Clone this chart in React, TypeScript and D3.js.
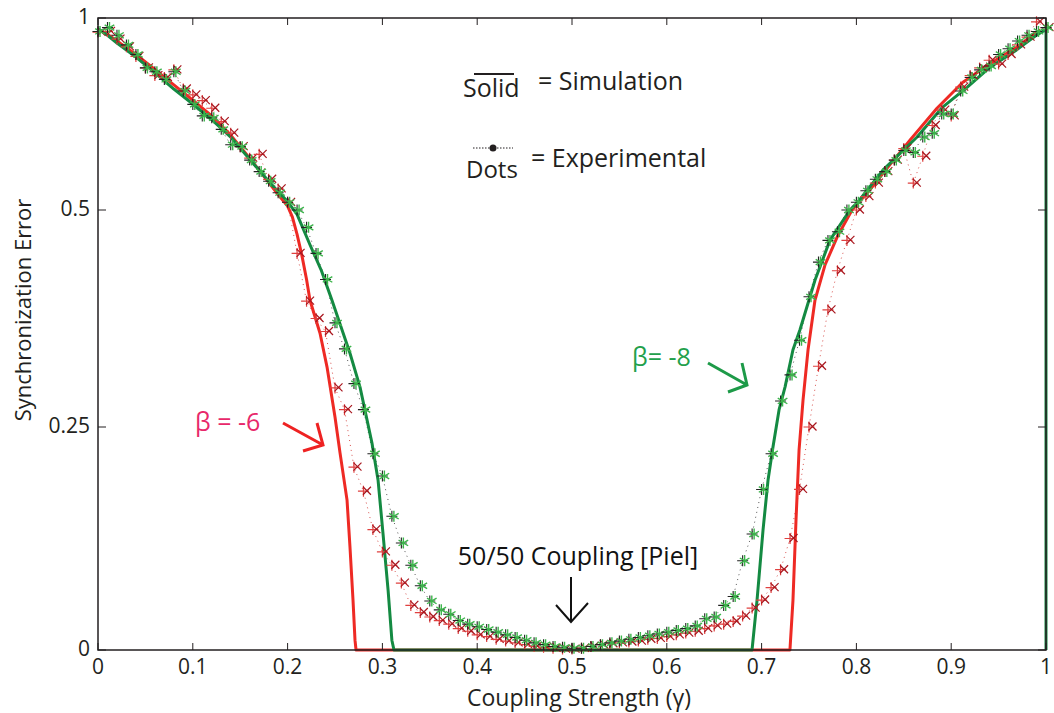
import React from "react";
import * as d3 from "d3";

const W = 1054;
const H = 713;

const xTicks = [0, 0.1, 0.2, 0.3, 0.4, 0.5, 0.6, 0.7, 0.8, 0.9, 1];
const xTickLabels = ["0", "0.1", "0.2", "0.3", "0.4", "0.5", "0.6", "0.7", "0.8", "0.9", "1"];
const yTicks = [0, 0.25, 0.5, 1];
const yTickLabels = ["0", "0.25", "0.5", "1"];

// Simulation (solid) curves
const redSimX = [0, 0.01, 0.02, 0.04, 0.06, 0.08, 0.1, 0.12, 0.14, 0.16, 0.18, 0.19, 0.2, 0.205, 0.21, 0.215, 0.22, 0.2236, 0.2342, 0.2416, 0.25, 0.2553, 0.2627, 0.2658, 0.269, 0.2711, 0.2722,
  0.7299, 0.7331, 0.7363, 0.7395, 0.7437, 0.749, 0.7563, 0.767, 0.7806, 0.7954, 0.814, 0.835, 0.8565, 0.885, 0.912, 0.944, 0.969, 0.994];
const redSimY = [0.97, 0.958, 0.94, 0.905, 0.866, 0.826, 0.786, 0.745, 0.695, 0.635, 0.572, 0.54, 0.51, 0.492, 0.472, 0.448, 0.42, 0.396, 0.358, 0.319, 0.2615, 0.221, 0.168, 0.1155, 0.056, 0.011, 0,
  0, 0.056, 0.1457, 0.224, 0.281, 0.339, 0.396, 0.437, 0.471, 0.5, 0.552, 0.617, 0.682, 0.765, 0.832, 0.886, 0.924, 0.969];

const greenSimX = [0, 0.01, 0.02, 0.04, 0.06, 0.08, 0.1, 0.12, 0.14, 0.16, 0.18, 0.19, 0.2, 0.21, 0.2236, 0.2357, 0.2468, 0.2658, 0.2764, 0.289, 0.2954, 0.3006, 0.306, 0.31, 0.3122,
  0.6899, 0.6952, 0.7015, 0.7068, 0.712, 0.7184, 0.7247, 0.7331, 0.7405, 0.7563, 0.772, 0.7932, 0.8006, 0.828, 0.864, 0.891, 0.917, 0.941, 0.969, 0.9905, 1, 1];
const greenSimY = [0.972, 0.955, 0.935, 0.898, 0.858, 0.815, 0.776, 0.735, 0.69, 0.632, 0.575, 0.548, 0.522, 0.495, 0.46, 0.43, 0.396, 0.335, 0.296, 0.232, 0.1906, 0.131, 0.067, 0.011, 0,
  0, 0.056, 0.1345, 0.1906, 0.2276, 0.2696, 0.296, 0.339, 0.362, 0.419, 0.465, 0.5, 0.518, 0.604, 0.69, 0.768, 0.82, 0.872, 0.917, 0.956, 0.97, 0];

// Experimental (dots) at gamma = 0, 0.01, ..., 1
const expX = d3.range(0, 101).map((i) => i / 100);
const redExpY = [
  0.963, 0.965, 0.945, 0.925, 0.9, 0.87, 0.85, 0.845, 0.865, 0.815,
  0.8, 0.785, 0.765, 0.73, 0.7, 0.665, 0.635, 0.645, 0.58, 0.555,
  0.52, 0.45, 0.395, 0.375, 0.36, 0.295, 0.27, 0.205, 0.178, 0.135,
  0.11, 0.095, 0.075, 0.05, 0.042, 0.037, 0.033, 0.029, 0.024, 0.021,
  0.017, 0.015, 0.012, 0.01, 0.008, 0.006, 0.004, 0.003, 0.002, 0.001,
  0.001, 0.002, 0.004, 0.006, 0.007, 0.008, 0.009, 0.01, 0.012, 0.013,
  0.015, 0.017, 0.019, 0.021, 0.024, 0.027, 0.029, 0.032, 0.038, 0.047,
  0.056, 0.07, 0.09, 0.125, 0.18, 0.25, 0.32, 0.385, 0.43, 0.465,
  0.5, 0.535, 0.57, 0.6, 0.63, 0.66, 0.57, 0.64, 0.72, 0.76,
  0.745, 0.82, 0.85, 0.87, 0.89, 0.88, 0.905, 0.93, 0.95, 0.99,
  0.975,
];
const greenExpY = [
  0.965, 0.975, 0.955, 0.93, 0.905, 0.87, 0.86, 0.84, 0.86, 0.81,
  0.775, 0.745, 0.74, 0.71, 0.67, 0.665, 0.63, 0.6, 0.575, 0.545,
  0.52, 0.5, 0.48, 0.45, 0.42, 0.37, 0.34, 0.3, 0.27, 0.22,
  0.195, 0.15, 0.12, 0.095, 0.072, 0.055, 0.045, 0.04, 0.033, 0.029,
  0.026, 0.023, 0.02, 0.017, 0.014, 0.011, 0.008, 0.006, 0.004, 0.003,
  0.002, 0.002, 0.004, 0.006, 0.008, 0.01, 0.012, 0.014, 0.016, 0.018,
  0.02, 0.022, 0.024, 0.027, 0.035, 0.037, 0.05, 0.06, 0.1, 0.13,
  0.18, 0.22, 0.28, 0.31, 0.35, 0.4, 0.44, 0.465, 0.475, 0.5,
  0.52, 0.55, 0.58, 0.6, 0.63, 0.655, 0.65, 0.69, 0.7, 0.75,
  0.75, 0.81, 0.845, 0.865, 0.875, 0.905, 0.92, 0.94, 0.955, 0.965,
  0.975,
];

const FONT = "'Open Sans', 'Noto Sans', sans-serif";
const INK = "#231f20";

export default function App() {
  const x = d3.scaleLinear().domain([0, 1]).range([98, 1046]);
  const y = d3.scaleLinear().domain([0, 0.25, 0.5, 1]).range([650, 427, 210, 18]);

  const line = d3
    .line<[number, number]>()
    .x((d) => x(d[0]))
    .y((d) => y(d[1]));

  const redSim = redSimX.map((v, i) => [v, redSimY[i]] as [number, number]);
  const greenSim = greenSimX.map((v, i) => [v, greenSimY[i]] as [number, number]);
  const redExp = expX.map((v, i) => [v, redExpY[i]] as [number, number]);
  const greenExp = expX.map((v, i) => [v, greenExpY[i]] as [number, number]);

  const x0 = x(0), x1 = x(1), yb = y(0), yt = y(1);

  return (
    <svg width={W} height={H} style={{ position: "absolute", left: 0, top: 0, background: "#fff" }}>
      {/* dotted experimental connecting lines */}
      <path d={line(redExp) || ""} fill="none" stroke="#d9534f" strokeWidth={1} strokeDasharray="1,4" />
      <path d={line(greenExp) || ""} fill="none" stroke="#555" strokeWidth={1} strokeDasharray="1,4" />

      {/* simulation */}
      <path d={line(redSim) || ""} fill="none" stroke="#ee2a24" strokeWidth={3} strokeLinejoin="round" />
      <path d={line(greenSim) || ""} fill="none" stroke="#148a42" strokeWidth={3} strokeLinejoin="round" />

      {/* experimental markers */}
      {redExp.map((d, i) => {
        const cx = x(d[0]), cy = y(d[1]);
        return (
          <g key={"r" + i}>
            <path d={`M${cx - 5.5},${cy}H${cx + 5.5}M${cx},${cy - 5.5}V${cy + 5.5}`} stroke="#e0403f" strokeWidth={1.2} />
            <path d={`M${cx - 0.5},${cy - 4.5}l8,8M${cx + 7.5},${cy - 4.5}l-8,8`} stroke="#a8161e" strokeWidth={1.2} />
          </g>
        );
      })}
      {greenExp.map((d, i) => {
        const cx = x(d[0]), cy = y(d[1]);
        return (
          <g key={"g" + i}>
            <path d={`M${cx - 5.5},${cy}H${cx + 5.5}M${cx},${cy - 5.5}V${cy + 5.5}`} stroke="#222" strokeWidth={1.1} />
            <path d={`M${cx + 2},${cy - 5.5}V${cy + 5.5}M${cx - 2.8},${cy - 2.8}l9.6,5.6M${cx + 6.8},${cy - 2.8}l-9.6,5.6`} stroke="#3cb44b" strokeWidth={1.4} />
          </g>
        );
      })}

      {/* axes box */}
      <rect x={x0} y={yt} width={x1 - x0} height={yb - yt} fill="none" stroke={INK} strokeWidth={1.5} />
      {xTicks.map((t, i) => (
        <g key={"xt" + i}>
          <line x1={x(t)} x2={x(t)} y1={yb} y2={yb - 7} stroke={INK} strokeWidth={1} />
          <line x1={x(t)} x2={x(t)} y1={yt} y2={yt + 7} stroke={INK} strokeWidth={1} />
          <text x={x(t)} y={yb + 24} textAnchor="middle" fontFamily={FONT} fontSize={21} fill={INK}>
            {xTickLabels[i]}
          </text>
        </g>
      ))}
      {yTicks.map((t, i) => (
        <g key={"yt" + i}>
          <line x1={x0} x2={x0 + 8} y1={y(t)} y2={y(t)} stroke={INK} strokeWidth={1} />
          <line x1={x1} x2={x1 - 8} y1={y(t)} y2={y(t)} stroke={INK} strokeWidth={1} />
          <text x={x0 - 8} y={y(t) + 6} textAnchor="end" fontFamily={FONT} fontSize={21} fill={INK}>
            {yTickLabels[i]}
          </text>
        </g>
      ))}

      {/* axis labels */}
      <text x={579} y={706} textAnchor="middle" fontFamily={FONT} fontSize={23} fill={INK}>
        Coupling Strength (γ)
      </text>
      <text transform={`translate(31,${310}) rotate(-90)`} textAnchor="middle" fontFamily={FONT} fontSize={22} fill={INK}>
        Synchronization Error
      </text>

      {/* legend */}
      <line x1={474} x2={514} y1={74} y2={74} stroke={INK} strokeWidth={2} />
      <text x={463} y={97} fontFamily={FONT} fontSize={25} fill={INK}>Solid</text>
      <text x={538} y={90} fontFamily={FONT} fontSize={25} fill={INK}>= Simulation</text>
      <line x1={473} x2={513} y1={148} y2={148} stroke={INK} strokeWidth={1} strokeDasharray="1.5,1.5" />
      <circle cx={493} cy={148} r={3.5} fill={INK} />
      <text x={466} y={178} fontFamily={FONT} fontSize={24} fill={INK}>Dots</text>
      <text x={531} y={167} fontFamily={FONT} fontSize={25} fill={INK}>= Experimental</text>

      {/* 50/50 annotation */}
      <text x={578} y={565} textAnchor="middle" fontFamily={FONT} fontSize={25} fill="#111">50/50 Coupling [Piel]</text>
      <path d="M571,577V622M556,605L571,622L588,603" fill="none" stroke="#111" strokeWidth={2} />

      {/* beta labels */}
      <text x={195} y={431} fontFamily={FONT} fontSize={25} fill="#e8286a">β = -6</text>
      <path d="M283,423L323,445M317,423L323,445L303,451" fill="none" stroke="#ee2222" strokeWidth={3} />
      <text x={632} y={366} fontFamily={FONT} fontSize={25} fill="#22a04b">β= -8</text>
      <path d="M708,363L747,385M742,363L747,385L728,392" fill="none" stroke="#1d9a48" strokeWidth={3} />
    </svg>
  );
}
